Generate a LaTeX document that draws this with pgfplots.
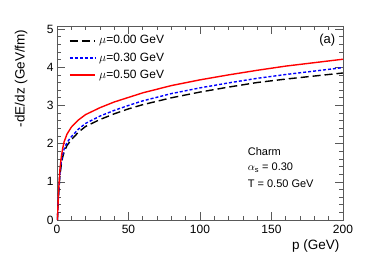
\documentclass[border=0pt]{standalone}
\usepackage{pgfplots}
\pgfplotsset{compat=1.18}
\usepackage{fontspec}
\setmainfont{Liberation Sans}
\begin{document}
\begin{tikzpicture}
\begin{axis}[
  scale only axis,
  width=286pt, height=194pt,
  xmin=0, xmax=200, ymin=0, ymax=5.08,
  xtick={0,50,100,150,200}, ytick={0,1,2,3,4,5},
  minor x tick num=4, minor y tick num=4,
  tick align=inside,
  major tick length=8pt, minor tick length=4pt,
  axis line style={black!65, line width=0.8pt},
  tick style={black!65, line width=0.6pt},
  xticklabel style={yshift=-2pt},
  /pgf/number format/assume math mode=true,
  ticklabel style={font=\fontsize{12}{14}\selectfont},
  xlabel={p (GeV)},
  ylabel={-dE/dz (GeV/fm)},
  label style={font=\fontsize{13.5}{16}\selectfont},
  xlabel style={at={(rel axis cs:1,0)}, anchor=north east, yshift=-16pt},
  ylabel style={at={(rel axis cs:0,1)}, anchor=south east, yshift=26pt},
]
\addplot[black, line width=1.4pt, dash pattern=on 8pt off 4pt] coordinates {
(0.3,0) (1,0.6) (2,1.15) (3,1.45) (4,1.65) (5,1.78) (7,1.95) (10,2.1) (15,2.3) (20,2.45) (30,2.63) (40,2.78) (50,2.91) (60,3.02) (80,3.2) (100,3.35) (120,3.48) (140,3.6) (160,3.69) (180,3.77) (200,3.85)};
\addplot[blue, line width=1.4pt, dash pattern=on 3pt off 2pt] coordinates {
(0.3,0) (1,0.62) (2,1.2) (3,1.52) (4,1.72) (5,1.86) (7,2.03) (10,2.18) (15,2.38) (20,2.53) (30,2.72) (40,2.87) (50,3.0) (60,3.12) (80,3.31) (100,3.46) (120,3.59) (140,3.71) (160,3.81) (180,3.9) (200,3.99)};
\addplot[red, line width=1.4pt] coordinates {
(0.3,0) (1,0.68) (2,1.3) (3,1.65) (4,1.88) (5,2.05) (7,2.25) (10,2.43) (15,2.62) (20,2.76) (30,2.94) (40,3.09) (50,3.21) (60,3.33) (80,3.52) (100,3.67) (120,3.80) (140,3.92) (160,4.03) (180,4.12) (200,4.21)};
\draw[black, line width=1.4pt, dash pattern=on 8pt off 4pt] (axis description cs:0.045,0.923) -- (axis description cs:0.133,0.923);
\draw[blue, line width=1.4pt, dash pattern=on 3pt off 2pt] (axis description cs:0.045,0.835) -- (axis description cs:0.133,0.835);
\draw[red, line width=1.4pt] (axis description cs:0.045,0.747) -- (axis description cs:0.133,0.747);
\node[anchor=west, inner sep=0pt, font=\fontsize{12}{14}\selectfont] at (axis description cs:0.147,0.923) {$\mu$=0.00 GeV};
\node[anchor=west, inner sep=0pt, font=\fontsize{12}{14}\selectfont] at (axis description cs:0.147,0.835) {$\mu$=0.30 GeV};
\node[anchor=west, inner sep=0pt, font=\fontsize{12}{14}\selectfont] at (axis description cs:0.147,0.747) {$\mu$=0.50 GeV};
\node[anchor=north east, font=\fontsize{13}{15}\selectfont] at (rel axis cs:0.985,0.975) {(a)};
\node[anchor=west, font=\fontsize{11}{13}\selectfont] at (rel axis cs:0.655,0.355) {Charm};
\node[anchor=west, font=\fontsize{11}{13}\selectfont] at (rel axis cs:0.655,0.27) {$\alpha_{\mbox{\fontsize{7.5}{9}\selectfont s}}$ = 0.30};
\node[anchor=west, font=\fontsize{11}{13}\selectfont] at (rel axis cs:0.655,0.185) {T = 0.50 GeV};
\end{axis}
\path (current axis.south west) ++(-57pt,-40pt) coordinate (bbA);
\path (current axis.north east) ++(38pt,26pt) coordinate (bbB);
\useasboundingbox (bbA) rectangle (bbB);
\end{tikzpicture}
\end{document}
